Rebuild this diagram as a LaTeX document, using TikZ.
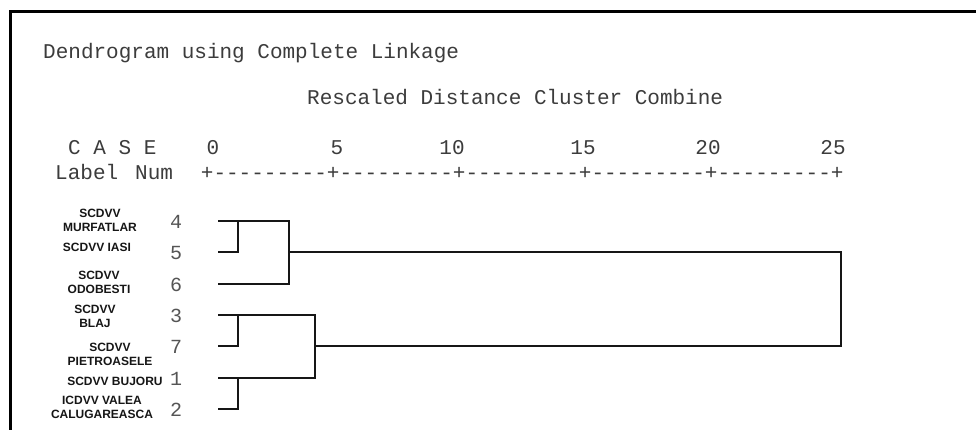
\documentclass[tikz,border=0pt]{standalone}
\usepackage{fontspec}
\newfontfamily\typefont{Liberation Mono}
\newfontfamily\casefont{Liberation Sans}
\definecolor{Ink}{HTML}{161616}
\definecolor{PrintGrey}{HTML}{3C3C3C}
\definecolor{NumGrey}{HTML}{555555}

\begin{document}
\begin{tikzpicture}[x=1pt,y=-1pt,every node/.style={inner sep=0pt},
  mono/.style={font=\typefont\fontsize{21}{21}\selectfont,text=PrintGrey,anchor=base west},
  casename/.style={font=\casefont\bfseries\fontsize{12}{14}\selectfont,align=center,text=Ink},
  link/.style={Ink,line width=2.9pt},
  span/.style={Ink,line width=2.2pt}]
\useasboundingbox (0,0) rectangle (976,430); \fill[white] (0,0) rectangle (976,430);
\draw[black,line width=3pt] (10,432) |- (978,12);
\node[mono] (title) at (43,59){Dendrogram using Complete Linkage};
\node[mono] (rescaled) at (307,105){Rescaled Distance Cluster Combine};
\node[mono] (casehd) at (68,155){C A S E}; \node[mono] (labelhd) at (55,180){Label}; \node[mono] (numhd) at (135,180){Num};
\node[mono] (axis) at (200.7,180){+---------+---------+---------+---------+---------+};
\foreach \val/\x in {0/213,5/337,10/452,15/583,20/708,25/833}{\node[mono,anchor=base] (tick\val) at (\x,155){\val};}
% leaves and case numbers
\foreach \n/\y in {4/221,5/252,6/284,3/315,7/346,1/378,2/409}{\coordinate (l\n) at (218,\y);
  \node[font=\typefont\fontsize{20}{20}\selectfont,text=NumGrey] (num\n) at (176,\y+1){\n};}
\node[casename] (case4) at (100,220){SCDVV\\MURFATLAR}; \node[casename] (case5) at (97,247){SCDVV IASI};
\node[casename] (case6) at (99,282){SCDVV\\ODOBESTI}; \node[casename] (case3) at (95,316){SCDVV\\BLAJ};
\node[casename] (case7) at (110,354){SCDVV\\PIETROASELE}; \node[casename] (case1) at (115,381){SCDVV BUJORU};
\node[casename] (case2) at (102,407){ICDVV VALEA\\CALUGAREASCA};
% merges
\coordinate (m45) at (238,221); \coordinate (m37) at (238,315); \coordinate (m12) at (238,378);
\coordinate (m456) at (289,252); \coordinate (m3712) at (315,346); \coordinate (root) at (841,299);
\draw[link] (l5) -| (m45); \draw[link] (l4) -| (m456); \draw[link] (l6) -| (m456);
\draw[link] (l7) -| (m37); \draw[link] (l2) -| (m12); \draw[link] (l3) -| (m3712); \draw[link] (l1) -| (m3712);
\draw[span] (m456) -| (root); \draw[span] (m3712) -| (root);
\end{tikzpicture}
\end{document}
